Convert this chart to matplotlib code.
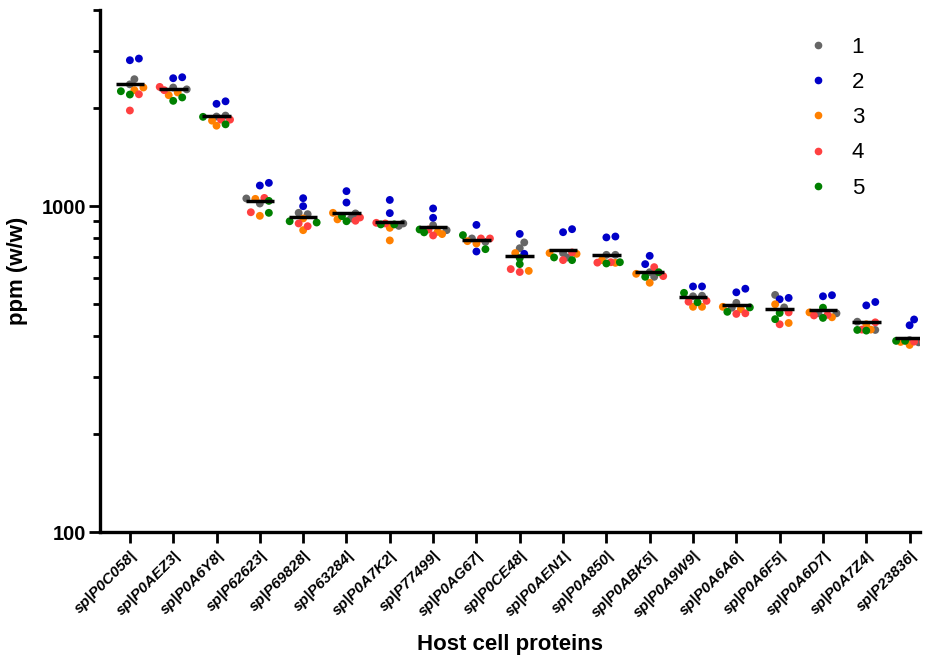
import numpy as np
import matplotlib
matplotlib.use("Agg")
import matplotlib.pyplot as plt
from matplotlib.lines import Line2D
from matplotlib.ticker import FixedLocator, NullFormatter

# Datos (dos réplicas por grupo y proteína)
proteinas = ["sp|P0C058|", "sp|P0AEZ3|", "sp|P0A6Y8|", "sp|P62623|", "sp|P69828|",
             "sp|P63284|", "sp|P0A7K2|", "sp|P77499|", "sp|P0AG67|", "sp|P0CE48|",
             "sp|P0AEN1|", "sp|P0A850|", "sp|P0ABK5|", "sp|P0A9W9|", "sp|P0A6A6|",
             "sp|P0A6F5|", "sp|P0A6D7|", "sp|P0A7Z4|", "sp|P23836|"]

grupo1 = [[2453, 2365], [2313, 2283], [1897, 1884], [1056, 1019], [945, 954],
          [950, 917], [870, 885], [874, 844], [777, 796], [774, 743],
          [696, 718], [709, 709], [607, 627], [531, 529], [505, 488],
          [534, 489], [469, 469], [417, 442], [382, 388]]
grupo2 = [[2838, 2805], [2487, 2470], [2098, 2061], [1179, 1157], [1058, 1000],
          [1112, 1026], [1045, 952], [984, 921], [876, 726], [822, 714],
          [832, 850], [802, 807], [704, 664], [567, 567], [544, 558],
          [523, 518], [529, 533], [508, 496], [449, 431]]
grupo3 = [[2270, 2313], [2191, 2233], [1830, 1766], [1053, 934], [917, 844],
          [911, 954], [858, 785], [821, 834], [781, 768], [718, 633],
          [714, 718], [670, 683], [620, 582], [491, 491], [483, 491],
          [500, 438], [472, 456], [418, 434], [375, 383]]
grupo4 = [[2205, 1966], [2323, 2270], [1843, 1843], [1060, 958], [885, 868],
          [902, 923], [889, 885], [848, 813], [796, 796], [628, 641],
          [721, 683], [671, 673], [650, 610], [509, 512], [467, 469],
          [472, 434], [462, 464], [440, 418], [384, 384]]
grupo5 = [[2253, 2201], [2105, 2156], [1880, 1783], [1038, 954], [899, 891],
          [932, 899], [879, 879], [848, 831], [815, 738], [693, 664],
          [683, 696], [673, 667], [627, 607], [542, 507], [489, 474],
          [470, 450], [488, 454], [417, 415], [386, 386]]

nombres_grupos = ["1", "2", "3", "4", "5"]
colores = ["#666666", "#0000C8", "#FF8000", "#FF4040", "#008000"]
grupos = [grupo1, grupo2, grupo3, grupo4, grupo5]

plt.rcParams['font.family'] = ['Liberation Sans', 'DejaVu Sans']

fig = plt.figure(figsize=(9.25, 6.6), dpi=100)
ax = fig.add_axes([100 / 925, 1 - 532 / 660, 820 / 925, 522 / 660])

# escala en pixeles para acomodar los puntos (estilo "swarm" compacto)
px_x = 43.3
px_dec = 326.0
diam = 7.5


def acomodar(valores):
    ys = px_dec * np.log10(np.array(valores, dtype=float))
    orden = np.argsort(ys)
    puestos = []
    offs = np.zeros(len(ys))
    paso = diam * 0.6
    candidatos = [0.0, paso, -paso, 2 * paso, -2 * paso, 3 * paso, -3 * paso]
    for i in orden:
        mejor, mejor_d = 0.0, -1.0
        for c in candidatos:
            dmin = min([np.hypot(xx - c, yy - ys[i]) for (xx, yy) in puestos] + [99])
            if dmin >= diam * 0.8:
                mejor = c
                break
            if dmin > mejor_d:
                mejor, mejor_d = c, dmin
        offs[i] = mejor
        puestos.append((mejor, ys[i]))
    return offs / px_x


for i in range(len(proteinas)):
    vals = []
    cols = []
    for g in range(5):
        for v in grupos[g][i]:
            vals.append(v)
            cols.append(colores[g])
    offs = acomodar(vals)
    ax.scatter(i + offs, vals, s=32, c=cols, edgecolors="none", zorder=3)
    media = np.mean(vals)
    ax.plot([i - 0.33, i + 0.33], [media, media], color="black", lw=2.5,
            solid_capstyle="butt", zorder=4)

ax.set_yscale("log")
ax.set_ylim(100, 4000)
ax.set_xlim(-0.69, 18.24)

ax.yaxis.set_major_locator(FixedLocator([100, 1000]))
ax.yaxis.set_minor_locator(FixedLocator([200, 300, 400, 500, 600, 700, 800, 900,
                                         2000, 3000, 4000]))
ax.yaxis.set_minor_formatter(NullFormatter())
ax.set_yticklabels(["100", "1000"], fontsize=14.5, fontweight="bold")

ax.set_xticks(range(len(proteinas)))
ax.set_xticklabels(proteinas, rotation=45, ha="right", rotation_mode="anchor",
                   fontsize=11, fontweight="bold", fontstyle="italic",
                   family=["Liberation Sans Narrow", "Liberation Sans"])

for s in ["top", "right"]:
    ax.spines[s].set_visible(False)
for s in ["left", "bottom"]:
    ax.spines[s].set_linewidth(2.4)

ax.tick_params(axis="y", which="major", length=8, width=2, pad=2)
ax.tick_params(axis="y", which="minor", length=5, width=2)
ax.tick_params(axis="x", which="major", length=8, width=2, pad=4)

ax.set_ylabel("ppm (w/w)", fontsize=16, fontweight="bold", labelpad=10)
ax.set_xlabel("Host cell proteins", fontsize=16, fontweight="bold", labelpad=10)

handles = [Line2D([], [], marker="o", ls="none", color=c, markersize=4.5)
           for c in colores]
ax.legend(handles, nombres_grupos, frameon=False, loc="upper left",
          bbox_to_anchor=(0.849, 0.970), fontsize=16, labelspacing=0.64,
          handlelength=1.0, handletextpad=1.0, borderpad=0)

fig.savefig("out.png", dpi=100)
